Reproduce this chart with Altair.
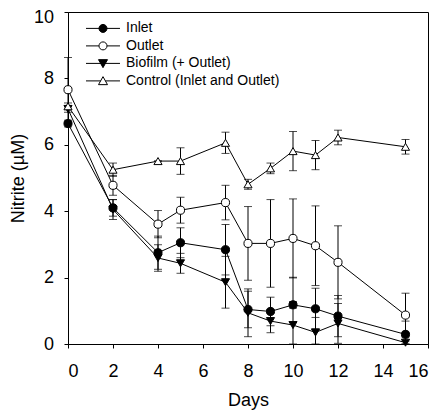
import altair as alt
import pandas as pd

days = [0, 2, 4, 5, 7, 8, 9, 10, 11, 12, 15]

inlet = [6.64, 4.10, 2.75, 3.05, 2.84, 1.04, 0.98, 1.18, 1.06, 0.84, 0.29]
inlet_sd = [0.10, 0.25, 0.50, 0.45, 0.76, 0.55, 0.43, 0.10, 0.62, 0.62, 0.40]

outlet = [7.66, 4.78, 3.61, 4.03, 4.26, 3.03, 3.03, 3.18, 2.96, 2.46, 0.87]
outlet_sd = [0.97, 0.30, 0.41, 0.39, 0.52, 1.11, 1.32, 1.19, 1.20, 1.10, 0.66]

biofilm = [7.08, 4.05, 2.59, 2.43, 1.86, 0.94, 0.69, 0.57, 0.35, 0.62, 0.04]
biofilm_sd = [0.10, 0.30, 0.40, 0.30, 0.78, 0.72, 0.35, 1.44, 0.45, 0.60, 0.05]

control = [7.16, 5.25, 5.51, 5.51, 6.06, 4.81, 5.29, 5.81, 5.69, 6.22, 5.94]
control_sd = [0.10, 0.20, 0.00, 0.40, 0.32, 0.15, 0.16, 0.59, 0.44, 0.22, 0.22]

series_names = ["Inlet", "Outlet", "Biofilm (+ Outlet)", "Control (Inlet and Outlet)"]
marker_fills = ["black", "white", "black", "white"]
marker_shapes = ["circle", "circle", "triangle-down", "triangle-up"]

# legend key symbols: short line with the marker on it (unit coords, scaled by sqrt(size)/2)
legend_paths = [
    "M-1,0H3.533M0.733,0A0.533,0.533 0 1,0 1.8,0A0.533,0.533 0 1,0 0.733,0Z",
    "M-1,0H0.733M1.8,0H3.533M0.733,0A0.533,0.533 0 1,0 1.8,0A0.533,0.533 0 1,0 0.733,0Z",
    "M-1,0H3.533M0.667,-0.5L1.867,-0.5L1.267,0.567Z",
    "M-1,0H0.948M1.586,0H3.533M0.667,0.5L1.867,0.5L1.267,-0.567Z",
]

rows = []
for name, vals, sds in zip(series_names, [inlet, outlet, biofilm, control],
                           [inlet_sd, outlet_sd, biofilm_sd, control_sd]):
    for d, v, s in zip(days, vals, sds):
        rows.append({"day": d, "value": v, "sd": s, "series": name})
df = pd.DataFrame(rows)
df["lo"] = (df["value"] - df["sd"]).clip(lower=0)
df["hi"] = df["value"] + df["sd"]

FONT = "Liberation Sans"
YTITLE = "Nitrite (µM)"

x_axis = alt.Axis(values=list(range(0, 17, 2)), title="Days", labelPadding=14,
                  titlePadding=11, tickSize=4)
y_axis = alt.Axis(values=[0, 2, 4, 6, 8, 10], title=YTITLE, labelPadding=10.5,
                  titlePadding=6, tickSize=4,
                  labelOffset={"condition": {"test": "datum.value == 10", "value": 5}, "value": 0})
x_scale = alt.Scale(domain=[0, 16], nice=False)
y_scale = alt.Scale(domain=[0, 10], nice=False)

X = alt.X("day:Q", scale=x_scale, axis=x_axis)
Y = alt.Y("value:Q", scale=y_scale, axis=y_axis, title=YTITLE)

base = alt.Chart(df)

errbars = base.mark_errorbar(
    ticks={"size": 8, "strokeWidth": 1, "color": "black"},
    rule={"strokeWidth": 1, "color": "black"},
    color="black",
).encode(
    x=X,
    y=alt.Y("lo:Q", scale=y_scale, axis=y_axis, title=YTITLE),
    y2="hi:Q",
)

lines = base.mark_line(color="black", strokeWidth=1).encode(
    x=X, y=Y, detail="series:N", order="day:Q",
)

point_layers = []
for name, fill, shape in zip(series_names, marker_fills, marker_shapes):
    point_layers.append(
        base.transform_filter(alt.datum.series == name).mark_point(
            filled=True, fill=fill, stroke="black", strokeWidth=1, opacity=1,
            size=66, shape=shape,
        ).encode(x=X, y=Y)
    )

leg = alt.Legend(
    title=None, orient="none", legendX=17.5, legendY=8.4, direction="vertical",
    symbolSize=225, symbolStrokeWidth=1, symbolOpacity=1,
    labelFont=FONT, labelFontSize=14, labelColor="black", labelOffset=24.5,
    rowPadding=2.5, padding=0, symbolOffset=0, labelLimit=0,
)

legend_layer = base.transform_filter("datum.day < 0").mark_point(
    filled=True, stroke="black", strokeWidth=1, opacity=1, size=225
).encode(
    x=X, y=Y,
    color=alt.Color("series:N", scale=alt.Scale(domain=series_names, range=marker_fills), legend=leg),
    shape=alt.Shape("series:N", scale=alt.Scale(domain=series_names, range=legend_paths), legend=leg),
)

chart = alt.layer(errbars, lines, *point_layers, legend_layer).properties(
    width=360, height=332,
    autosize=alt.AutoSizeParams(type="none"),
    padding={"left": 60, "top": 4, "right": 6, "bottom": 66},
    background="white",
).configure_view(
    stroke="black", strokeWidth=1
).configure_axis(
    grid=False, domainColor="black", domainWidth=1, tickColor="black", tickWidth=1,
    labelFont=FONT, labelFontSize=18, labelColor="black",
    titleFont=FONT, titleFontSize=18, titleFontWeight="normal", titleColor="black",
)

chart.save("out.html", embed_options={"renderer": "svg", "actions": False})
